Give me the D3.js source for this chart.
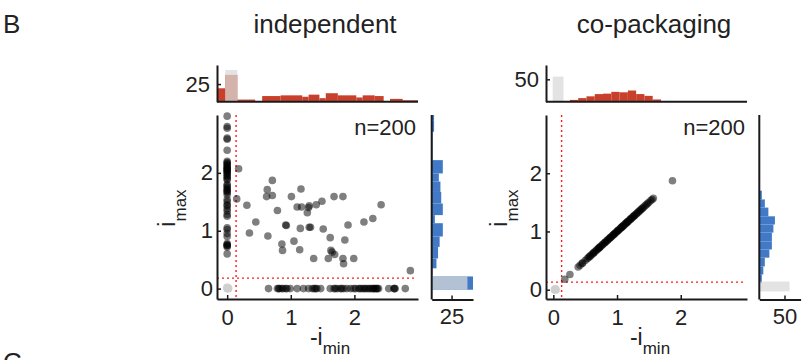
<!DOCTYPE html>
<html>
<head>
<meta charset="utf-8">
<script src="https://cdn.jsdelivr.net/npm/d3@7"></script>
<style>
  body { margin: 0; background: #fff; }
  svg text { font-family: "Liberation Sans", Arial, sans-serif; fill: #222; }
</style>
</head>
<body>
<svg id="fig" width="809" height="360"></svg>
<script>
// ---- data ----

// independent: points on the -i_min = 0 column (i_max values)
const indepColumnY = [2.98, 2.80, 2.77, 2.60, 2.58, 2.39, 2.20, 2.18, 2.16, 2.14, 2.12, 2.10, 2.08, 2.07,
  2.05, 2.04, 2.02, 2.00, 1.98, 1.95, 1.93, 1.90, 1.88, 1.80, 1.78, 1.75, 1.72, 1.70, 1.68, 1.66, 1.62,
  1.54, 1.50, 1.45, 1.43, 1.38, 1.34, 1.28, 1.25, 1.05, 1.02, 0.95, 0.90, 0.78, 0.76, 0.75, 0.74, 0.72, 0.60];
// independent: points on the i_max = 0 row (-i_min values)
const indepRowX = [0.65, 0.79, 0.81, 0.82, 0.86, 0.88, 0.92, 0.94, 0.99, 1.10, 1.20, 1.28, 1.34, 1.37, 1.39,
  1.41, 1.47, 1.62, 1.68, 1.70, 1.73, 1.78, 1.80, 1.83, 1.88, 1.94, 1.99, 2.02, 2.07, 2.09, 2.12, 2.15,
  2.17, 2.20, 2.23, 2.25, 2.28, 2.30, 2.31, 2.33, 2.35, 2.36, 2.38, 2.54, 2.62, 2.63, 2.64, 2.80];
// independent: the rest [-i_min, i_max]
const indepScatter = [[0.18, 2.07], [0.15, 1.55], [0.31, 1.44], [0.35, 0.96], [0.45, 1.15], [0.63, 1.71],
  [0.71, 1.87], [0.62, 1.59], [0.71, 1.61], [0.64, 0.91], [0.79, 1.35], [0.86, 0.77], [0.87, 0.66],
  [0.92, 1.10], [0.93, 1.09], [1.01, 1.59], [1.05, 0.82], [1.10, 1.41], [1.14, 0.67], [1.15, 1.04],
  [1.16, 1.72], [1.17, 1.41], [1.26, 1.31], [1.28, 1.40], [1.29, 1.43], [1.29, 1.06], [1.31, 1.06],
  [1.36, 0.52], [1.40, 1.45], [1.49, 1.51], [1.51, 1.03], [1.59, 0.52], [1.62, 0.88], [1.68, 1.59],
  [1.63, 0.66], [1.65, 0.63], [1.69, 0.59], [1.82, 1.59], [1.82, 0.52], [1.83, 0.43], [1.85, 0.84],
  [1.90, 1.10], [1.99, 0.52], [2.15, 1.15], [2.29, 1.21], [2.42, 1.45], [2.88, 0.31]];
// below both thresholds (light grey)
const indepGray = [[0, 0], [0.01, 0.01], [0.02, 0], [0, 0.02]];

// co-packaging: points lie on the identity line (i_max = -i_min)
const coDiag = [0.18, 0.26, 0.39, 0.42, 0.45, 0.46, 0.50, 0.53, 0.55, 0.57, 0.58, 0.60, 0.62, 0.63, 0.64,
  0.66, 0.68, 0.69, 0.71, 0.72, 0.72, 0.74, 0.75, 0.77, 0.78, 0.80, 0.81, 0.82, 0.84, 0.85, 0.86, 0.88,
  0.89, 0.90, 0.91, 0.93, 0.94, 0.95, 0.96, 0.97, 0.99, 1.00, 1.01, 1.02, 1.03, 1.05, 1.06, 1.07, 1.08,
  1.09, 1.10, 1.11, 1.13, 1.14, 1.15, 1.16, 1.17, 1.18, 1.20, 1.21, 1.22, 1.23, 1.25, 1.26, 1.27, 1.28,
  1.30, 1.31, 1.33, 1.34, 1.36, 1.37, 1.39, 1.40, 1.42, 1.44, 1.46, 1.48, 1.50, 1.53, 1.55, 1.57, 1.87];
const coGray = [[0.02, 0], [0.03, 0.01], [0.04, 0]];

// histograms: bin edges (data units) and counts
const indepMinEdges = [-0.15, -0.03, 0.16, 0.44, 0.55, 0.84, 1.18, 1.28, 1.45, 1.55, 1.74, 2.03, 2.13, 2.32, 2.46, 2.56, 2.76, 3.0];
const indepMinCounts = [19, 38, 3, 1, 8, 9, 7, 10, 5, 12, 9, 6, 9, 8, 1, 4, 2];
const indepMinGray = {lo: -0.03, hi: 0.16, count: 45};

const indepMaxEdges = [-0.02, 0.21, 0.23, 0.35, 0.52, 0.72, 0.90, 1.13, 1.27, 1.47, 1.67, 1.85, 1.99, 2.22, 2.71, 2.91, 3.0];
const indepMaxCounts = [52, 0, 1, 6, 8, 10, 14, 4, 14, 12, 11, 9, 14, 1, 3, 3];
const indepMaxGray = {lo: -0.02, hi: 0.21, count: 45};

const coMinEdges = [0.13, 0.26, 0.39, 0.52, 0.65, 0.78, 0.91, 1.04, 1.17, 1.30, 1.43, 1.56, 1.69, 1.82, 1.95];
const coMinCounts = [1, 4, 8, 12, 17, 18, 22, 21, 25, 17, 13, 5, 1, 1];
const coMinGray = {lo: -0.01, hi: 0.16, count: 56};

const coMaxEdges = [0.11, 0.26, 0.40, 0.55, 0.69, 0.83, 0.98, 1.12, 1.26, 1.41, 1.55, 1.70, 1.98];
const coMaxCounts = [5, 8, 11, 20, 25, 25, 28, 31, 18, 11, 5, 1];
const coMaxGray = {lo: -0.03, hi: 0.14, count: 60};

const titles = ['independent', 'co-packaging'];
const nLabels = ['n=200', 'n=200'];
const scatterTicks = [0, 1, 2];
const histTicks = [[25], [50]];
const thresholds = [[0.14, 0.18], [0.13, 0.13]];

// ---- styling ----
const RED = '#c8402b';
const BLUE = '#4179c6';
const GRAY = '#d9d9d9';
const INK = '#1a1a1a';

const svg = d3.select('#fig');

const panels = [
  {title: titles[0], n: nLabels[0], left: 217, xDom: [-0.16, 3.0], yDom: [-0.18, 3.0], cMax: 52,
   histX: 431.7, ticks: histTicks[0], thr: thresholds[0], xLab: 330, yLab: 175,
   points: indepColumnY.map(v => [0, v]).concat(indepRowX.map(v => [v, 0]), indepScatter),
   gray: indepGray,
   top: {edges: indepMinEdges, counts: indepMinCounts, gray: indepMinGray},
   side: {edges: indepMaxEdges, counts: indepMaxCounts, gray: indepMaxGray}},
  {title: titles[1], n: nLabels[1], left: 546, xDom: [-0.115, 3.04], yDom: [-0.16, 3.0], cMax: 82,
   histX: 759.3, ticks: histTicks[1], thr: thresholds[1], xLab: 650, yLab: 507,
   points: coDiag.map(v => [v, v]),
   gray: coGray,
   top: {edges: coMinEdges, counts: coMinCounts, gray: coMinGray},
   side: {edges: coMaxEdges, counts: coMaxCounts, gray: coMaxGray}}
];

const fmt = d3.format('d');

function styleAxis(sel, size) {
  sel.select('.domain').attr('stroke', INK).attr('stroke-width', 2);
  sel.selectAll('.tick line').attr('stroke', INK).attr('stroke-width', 1.5);
  sel.selectAll('.tick text').attr('font-size', size).attr('font-family', null).attr('fill', '#222');
  sel.attr('font-family', null);
}

function drawPanel(p) {
  const g = svg.append('g');
  const x = d3.scaleLinear().domain(p.xDom).range([p.left, p.left + 201]);
  const y = d3.scaleLinear().domain(p.yDom).range([299, 115]);
  const cTop = d3.scaleLinear().domain([0, p.cMax]).range([101.7, 65]);
  const cSide = d3.scaleLinear().domain([0, p.cMax]).range([p.histX, p.histX + 41.3]);

  // title
  g.append('text').attr('x', p.left + 108).attr('y', 33).attr('text-anchor', 'middle')
    .attr('font-size', 26).text(p.title);

  // --- top histogram (-i_min) ---
  const topBins = p.top.counts.map((c, i) => ({lo: p.top.edges[i], hi: p.top.edges[i + 1], c: c}));
  g.selectAll('rect.top').data(topBins).join('rect').attr('class', 'top')
    .attr('x', d => x(d.lo)).attr('width', d => x(d.hi) - x(d.lo))
    .attr('y', d => cTop(d.c)).attr('height', d => cTop(0) - cTop(d.c))
    .attr('fill', RED);
  g.append('rect')
    .attr('x', x(p.top.gray.lo)).attr('width', x(p.top.gray.hi) - x(p.top.gray.lo))
    .attr('y', cTop(p.top.gray.count)).attr('height', cTop(0) - cTop(p.top.gray.count))
    .attr('fill', GRAY).attr('fill-opacity', 0.75);
  const topAx = g.append('g').attr('transform', `translate(${p.left},0)`)
    .call(d3.axisLeft(cTop).tickValues(p.ticks).tickFormat(fmt).tickSizeInner(-4).tickSizeOuter(0).tickPadding(7));
  styleAxis(topAx, 22);
  g.append('line').attr('x1', p.left).attr('x2', p.left + 201).attr('y1', 101.7).attr('y2', 101.7)
    .attr('stroke', INK).attr('stroke-width', 2);

  // --- side histogram (i_max) ---
  const sideBins = p.side.counts.map((c, i) => ({lo: p.side.edges[i], hi: p.side.edges[i + 1], c: c}));
  g.selectAll('rect.side').data(sideBins).join('rect').attr('class', 'side')
    .attr('x', cSide(0)).attr('width', d => cSide(d.c) - cSide(0))
    .attr('y', d => y(d.hi)).attr('height', d => y(d.lo) - y(d.hi))
    .attr('fill', BLUE);
  g.append('rect')
    .attr('x', cSide(0)).attr('width', cSide(p.side.gray.count) - cSide(0))
    .attr('y', y(p.side.gray.hi)).attr('height', y(p.side.gray.lo) - y(p.side.gray.hi))
    .attr('fill', GRAY).attr('fill-opacity', 0.75);
  const sideAx = g.append('g').attr('transform', 'translate(0,299.5)')
    .call(d3.axisBottom(cSide).tickValues(p.ticks).tickFormat(fmt).tickSizeInner(-4).tickSizeOuter(0).tickPadding(9));
  styleAxis(sideAx, 22);
  g.append('line').attr('x1', p.histX).attr('x2', p.histX).attr('y1', 115).attr('y2', 299.5)
    .attr('stroke', INK).attr('stroke-width', 2);

  // --- scatter ---
  g.append('line').attr('x1', x(p.thr[0])).attr('x2', x(p.thr[0])).attr('y1', 115).attr('y2', 299)
    .attr('stroke', '#ff1a1a').attr('stroke-width', 1.4).attr('stroke-dasharray', '2,3');
  g.append('line').attr('x1', p.left).attr('x2', p.left + 198).attr('y1', y(p.thr[1])).attr('y2', y(p.thr[1]))
    .attr('stroke', '#ff1a1a').attr('stroke-width', 1.4).attr('stroke-dasharray', '2,3');

  g.selectAll('circle.gray').data(p.gray).join('circle').attr('class', 'gray')
    .attr('cx', d => x(d[0])).attr('cy', d => y(d[1])).attr('r', 4)
    .attr('fill', '#cfcfcf');
  g.selectAll('circle.pt').data(p.points).join('circle').attr('class', 'pt')
    .attr('cx', d => x(d[0])).attr('cy', d => y(d[1])).attr('r', 3.8)
    .attr('fill', '#000').attr('fill-opacity', 0.5);

  const xAx = g.append('g').attr('transform', 'translate(0,299)')
    .call(d3.axisBottom(x).tickValues(scatterTicks).tickFormat(fmt).tickSizeInner(-4).tickSizeOuter(0).tickPadding(10));
  styleAxis(xAx, 22);
  const yAx = g.append('g').attr('transform', `translate(${p.left},0)`)
    .call(d3.axisLeft(y).tickValues(scatterTicks).tickFormat(fmt).tickSizeInner(-4).tickSizeOuter(0).tickPadding(4));
  styleAxis(yAx, 22);

  g.append('text').attr('x', p.left + 199).attr('y', 135).attr('text-anchor', 'end')
    .attr('font-size', 22).text(p.n);

  // axis labels
  const xl = g.append('text').attr('x', p.xLab).attr('y', 345).attr('text-anchor', 'middle').attr('font-size', 23);
  xl.append('tspan').text('-i');
  xl.append('tspan').attr('dy', 9).attr('font-size', 17).text('min');

  const yl = g.append('text').attr('transform', `translate(${p.yLab},208) rotate(-90)`)
    .attr('text-anchor', 'middle').attr('font-size', 23);
  yl.append('tspan').text('i');
  yl.append('tspan').attr('dy', 11).attr('font-size', 17).text('max');
}

panels.forEach(drawPanel);

svg.append('text').attr('x', 3).attr('y', 33).attr('font-size', 26).text('B');
svg.append('text').attr('x', 3).attr('y', 371).attr('font-size', 26).text('C');
</script>
</body>
</html>
